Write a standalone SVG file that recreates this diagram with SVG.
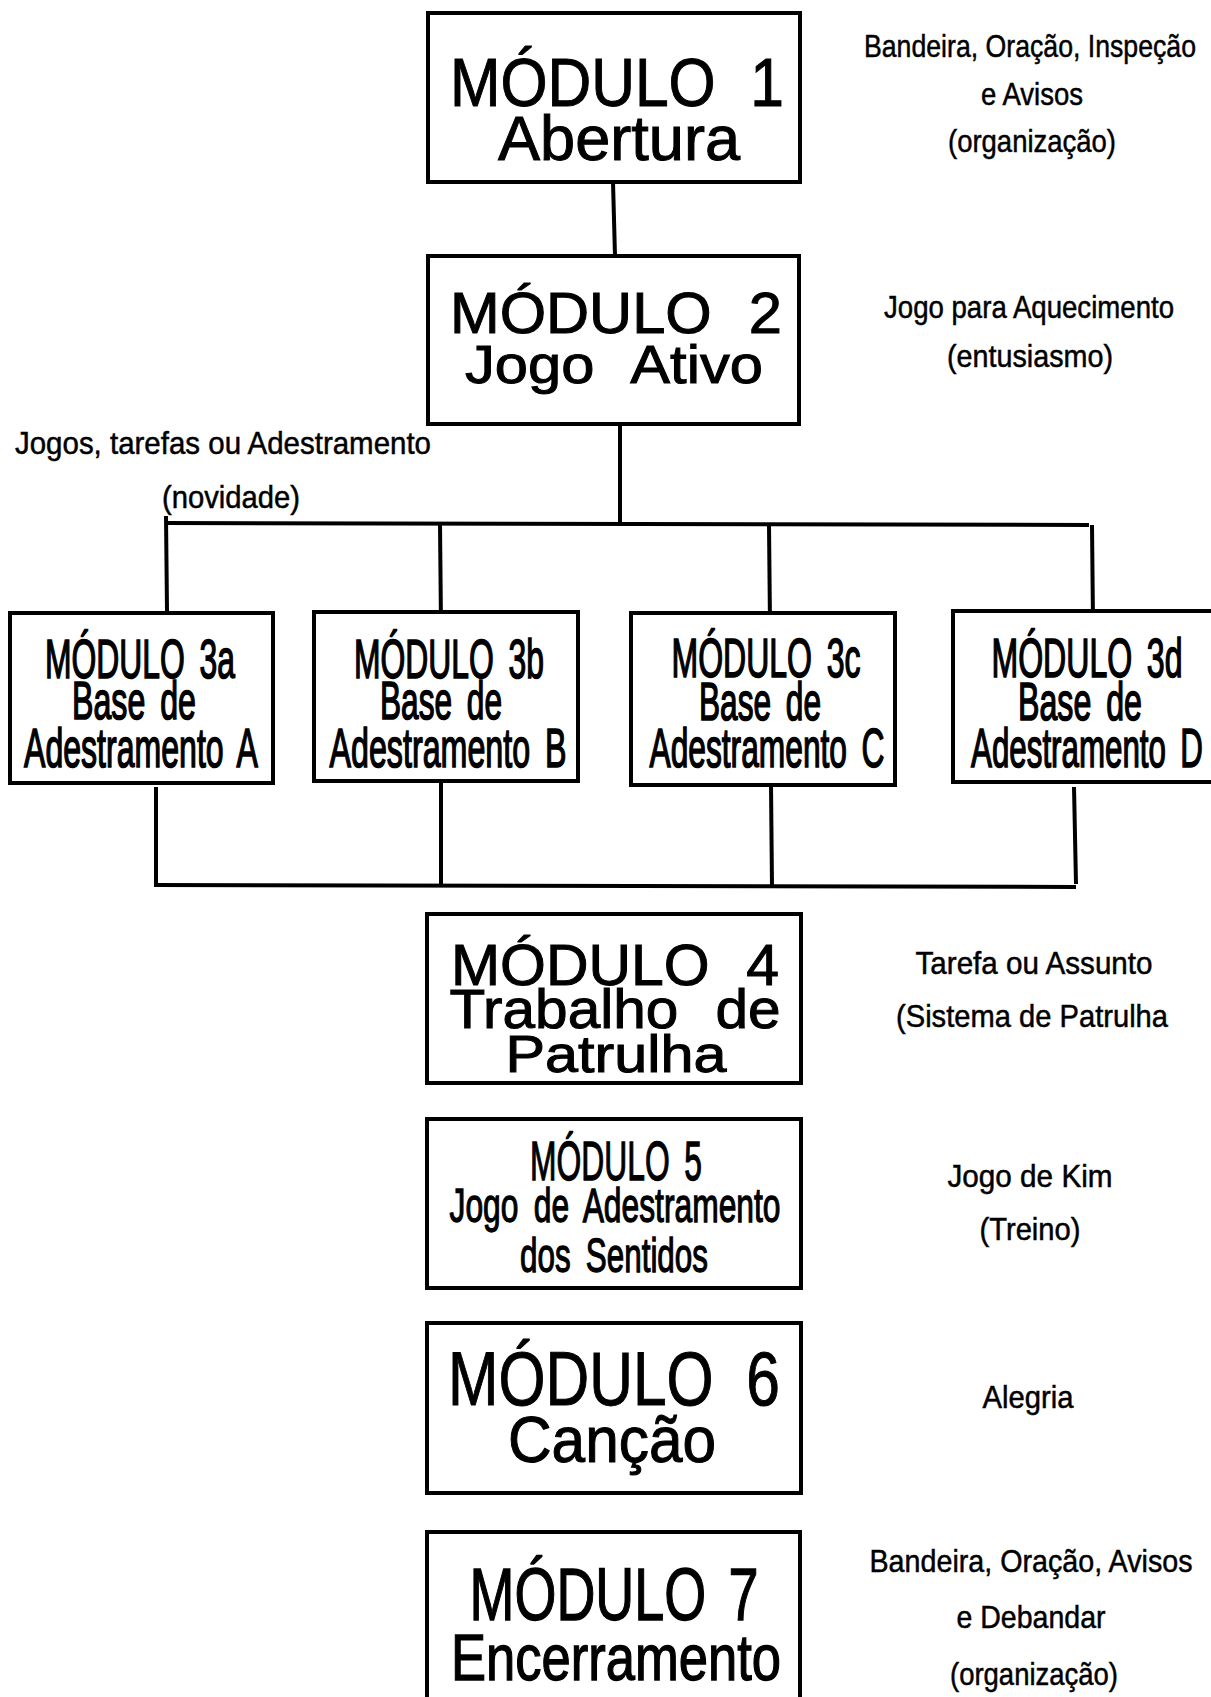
<svg xmlns="http://www.w3.org/2000/svg" width="1211" height="1697" viewBox="0 0 1211 1697">
<style>
.box{fill:#fff;stroke:#000;stroke-width:4}
.ln{stroke:#000;stroke-width:4;fill:none}
text{font-family:"Liberation Sans",Arial,sans-serif;fill:#000;text-anchor:middle;stroke:#000;stroke-width:1}
.lb{font-size:32px;stroke-width:0.5}
.n3{stroke-width:1.6}
.n5{stroke-width:1.3}
.w1{word-spacing:10px}
.w2{word-spacing:20px}
</style>
<rect width="1211" height="1697" fill="#fff"/>
<g id="connectors">
<line class="ln" x1="613" y1="182" x2="615" y2="256"/>
<line class="ln" x1="620" y1="415" x2="620" y2="523"/>
<line class="ln" x1="165" y1="523" x2="1089" y2="525"/>
<line class="ln" x1="166" y1="516" x2="167" y2="611"/>
<line class="ln" x1="440" y1="524" x2="441" y2="625"/>
<line class="ln" x1="769" y1="525" x2="770" y2="625"/>
<line class="ln" x1="1092" y1="525" x2="1093" y2="622"/>
<line class="ln" x1="156" y1="787" x2="156" y2="886"/>
<line class="ln" x1="441" y1="781" x2="441" y2="886"/>
<line class="ln" x1="771" y1="785" x2="772" y2="887"/>
<line class="ln" x1="1074" y1="787" x2="1076" y2="884"/>
<line class="ln" x1="154" y1="885" x2="1076" y2="887"/>
</g>
<g id="m1">
<rect class="box" x="428" y="13" width="372" height="169"/>
<text class="w2" x="617" y="106" font-size="68" textLength="334" lengthAdjust="spacingAndGlyphs">MÓDULO 1</text>
<text x="619" y="160" font-size="63" textLength="242" lengthAdjust="spacingAndGlyphs">Abertura</text>
</g>
<g id="m2">
<rect class="box" x="428" y="256" width="371" height="168"/>
<text class="w2" x="616" y="333" font-size="58" textLength="332" lengthAdjust="spacingAndGlyphs">MÓDULO 2</text>
<text class="w2" x="614" y="383" font-size="53" textLength="298" lengthAdjust="spacingAndGlyphs">Jogo Ativo</text>
</g>
<g id="m3a">
<rect class="box" x="10" y="613" width="263" height="170"/>
<text class="w1 n3" x="140" y="678" font-size="55" textLength="190" lengthAdjust="spacingAndGlyphs">MÓDULO 3a</text>
<text class="w1 n3" x="134" y="719" font-size="53" textLength="124" lengthAdjust="spacingAndGlyphs">Base de</text>
<text class="w1 n3" x="141" y="767" font-size="55" textLength="234" lengthAdjust="spacingAndGlyphs">Adestramento A</text>
</g>
<g id="m3b">
<rect class="box" x="314" y="612" width="264" height="169"/>
<text class="w1 n3" x="449" y="678" font-size="55" textLength="190" lengthAdjust="spacingAndGlyphs">MÓDULO 3b</text>
<text class="w1 n3" x="441" y="719" font-size="53" textLength="122" lengthAdjust="spacingAndGlyphs">Base de</text>
<text class="w1 n3" x="448" y="767" font-size="55" textLength="237" lengthAdjust="spacingAndGlyphs">Adestramento B</text>
</g>
<g id="m3c">
<rect class="box" x="631" y="613" width="264" height="172"/>
<text class="w1 n3" x="766" y="677" font-size="55" textLength="189" lengthAdjust="spacingAndGlyphs">MÓDULO 3c</text>
<text class="w1 n3" x="760" y="720" font-size="53" textLength="122" lengthAdjust="spacingAndGlyphs">Base de</text>
<text class="w1 n3" x="767" y="767" font-size="55" textLength="235" lengthAdjust="spacingAndGlyphs">Adestramento C</text>
</g>
<g id="m3d">
<rect class="box" x="953" y="611" width="262" height="171"/>
<text class="w1 n3" x="1087" y="677" font-size="55" textLength="191" lengthAdjust="spacingAndGlyphs">MÓDULO 3d</text>
<text class="w1 n3" x="1080" y="720" font-size="53" textLength="124" lengthAdjust="spacingAndGlyphs">Base de</text>
<text class="w1 n3" x="1087" y="767" font-size="55" textLength="232" lengthAdjust="spacingAndGlyphs">Adestramento D</text>
</g>
<g id="m4">
<rect class="box" x="427" y="914" width="374" height="169"/>
<text class="w2" x="615" y="985" font-size="58" textLength="328" lengthAdjust="spacingAndGlyphs">MÓDULO 4</text>
<text class="w2" x="615" y="1028" font-size="56" textLength="331" lengthAdjust="spacingAndGlyphs">Trabalho de</text>
<text x="616" y="1072" font-size="52" textLength="221" lengthAdjust="spacingAndGlyphs">Patrulha</text>
</g>
<g id="m5">
<rect class="box" x="427" y="1119" width="374" height="169"/>
<text class="w1 n5" x="616" y="1180" font-size="55" textLength="172" lengthAdjust="spacingAndGlyphs">MÓDULO 5</text>
<text class="w1 n5" x="615" y="1222" font-size="49" textLength="331" lengthAdjust="spacingAndGlyphs">Jogo de Adestramento</text>
<text class="w1 n5" x="614" y="1272" font-size="49" textLength="188" lengthAdjust="spacingAndGlyphs">dos Sentidos</text>
</g>
<g id="m6">
<rect class="box" x="427" y="1323" width="374" height="170"/>
<text class="w2" x="614" y="1405" font-size="76" textLength="332" lengthAdjust="spacingAndGlyphs">MÓDULO 6</text>
<text x="612" y="1462" font-size="64" textLength="208" lengthAdjust="spacingAndGlyphs">Canção</text>
</g>
<g id="m7">
<rect class="box" x="427" y="1532" width="373" height="180"/>
<text class="w1 n5" x="614" y="1620" font-size="74" textLength="289" lengthAdjust="spacingAndGlyphs">MÓDULO 7</text>
<text class="n5" x="616" y="1680" font-size="65" textLength="330" lengthAdjust="spacingAndGlyphs">Encerramento</text>
</g>
<g id="labels">
<text class="lb" x="1030" y="57" textLength="332" lengthAdjust="spacingAndGlyphs">Bandeira, Oração, Inspeção</text>
<text class="lb" x="1032" y="105" textLength="102" lengthAdjust="spacingAndGlyphs">e Avisos</text>
<text class="lb" x="1032" y="152" textLength="168" lengthAdjust="spacingAndGlyphs">(organização)</text>
<text class="lb" x="1029" y="318" textLength="290" lengthAdjust="spacingAndGlyphs">Jogo para Aquecimento</text>
<text class="lb" x="1030" y="367" textLength="166" lengthAdjust="spacingAndGlyphs">(entusiasmo)</text>
<text class="lb" x="223" y="454" textLength="416" lengthAdjust="spacingAndGlyphs">Jogos, tarefas ou Adestramento</text>
<text class="lb" x="231" y="508" textLength="138" lengthAdjust="spacingAndGlyphs">(novidade)</text>
<text class="lb" x="1034" y="974" textLength="237" lengthAdjust="spacingAndGlyphs">Tarefa ou Assunto</text>
<text class="lb" x="1032" y="1027" textLength="272" lengthAdjust="spacingAndGlyphs">(Sistema de Patrulha</text>
<text class="lb" x="1030" y="1187" textLength="165" lengthAdjust="spacingAndGlyphs">Jogo de Kim</text>
<text class="lb" x="1030" y="1240" textLength="101" lengthAdjust="spacingAndGlyphs">(Treino)</text>
<text class="lb" x="1028" y="1408" textLength="91" lengthAdjust="spacingAndGlyphs">Alegria</text>
<text class="lb" x="1031" y="1572" textLength="323" lengthAdjust="spacingAndGlyphs">Bandeira, Oração,  Avisos</text>
<text class="lb" x="1031" y="1628" textLength="149" lengthAdjust="spacingAndGlyphs">e Debandar</text>
<text class="lb" x="1034" y="1685" textLength="168" lengthAdjust="spacingAndGlyphs">(organização)</text>
</g>
</svg>
